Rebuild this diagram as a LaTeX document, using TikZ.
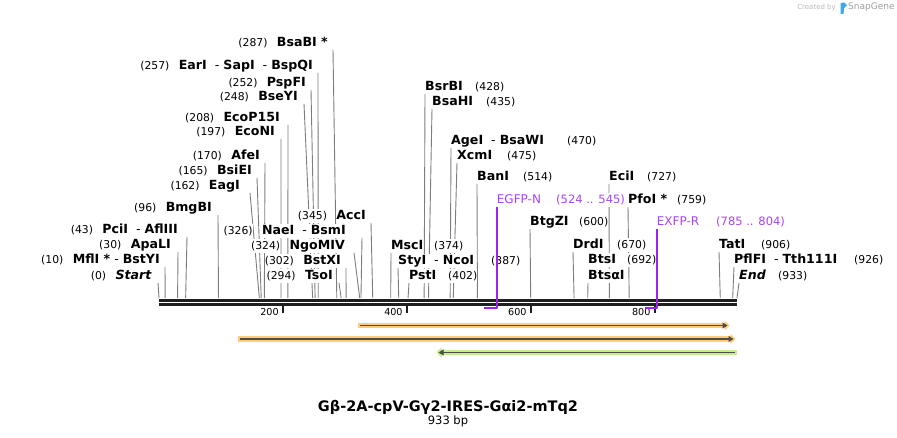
\documentclass[tikz,border=0pt]{standalone}
\usepackage{fontspec}
\setmainfont{DejaVu Sans}
\usetikzlibrary{positioning,arrows.meta}
\pgfdeclarelayer{bg}
\pgfsetlayers{bg,main}
\definecolor{cutgray}{RGB}{125,125,125}
\definecolor{primline}{RGB}{160,32,240}
\definecolor{primtext}{RGB}{168,68,245}
\definecolor{featorange}{RGB}{255,203,125}
\definecolor{featgreen}{RGB}{192,240,140}
\definecolor{featdark}{RGB}{78,78,68}
\definecolor{snapblue}{RGB}{60,170,230}
\begin{document}
\begin{tikzpicture}[x=1pt,y=-1pt,line join=round,
  lbl/.style={fill=white,inner xsep=0pt,inner ysep=1pt,text height=9pt,text depth=2.5pt},
  nm/.style={lbl,font=\fontsize{12.6}{14}\selectfont},
  nu/.style={lbl,font=\fontsize{10.8}{12}\selectfont},
  enzl/.style={nm,anchor=east},
  enzr/.style={nm,anchor=west},
  numl/.style={nu,anchor=east},
  numr/.style={nu,anchor=west},
  prim/.style={lbl,anchor=west,text=primtext,font=\fontsize{12}{14}\selectfont},
  primn/.style={prim,font=\fontsize{11.5}{13}\selectfont},
  cut/.style={cutgray,line width=0.9pt},
  hl/.style={line width=5.5pt},
  farr/.style={featdark,line width=1.7pt}]
\useasboundingbox (0,0) rectangle (897,438);
\def \xs{159}
\def \xe{737}
\def \bp{0.619507}
% left hand labels (number, name)
\foreach \i/\tx/\ty/\g/\p/\txt in {a/328/43/5/287/{\textbf{BsaBI *}},
  b/313/66/5/257/{\textbf{EarI}~~-~\textbf{SapI}~~-~\textbf{BspQI}},
  c/306/83/5/252/{\textbf{PspFI}},
  d/298/97/6/248/{\textbf{BseYI}},
  e/280/118/8/208/{\textbf{EcoP15I}},
  f/275/132/6/197/{\textbf{EcoNI}},
  g/260/156/5/170/{\textbf{AfeI}},
  h/252/171/5/165/{\textbf{BsiEI}},
  j/240/186/10/162/{\textbf{EagI}},
  k/212/208/6/96/{\textbf{BmgBI}},
  l/178/230/9/43/{\textbf{PciI}~~-~\textbf{AflIII}},
  m/171/245/7/30/{\textbf{ApaLI}},
  o/160/260/5/10/{\textbf{MflI *}~-~\textbf{BstYI}},
  s/152/276/6/0/{\textbf{\textit{Start}}},
  acc/366/216/5/345/{\textbf{AccI}},
  nae/346/231/16/326/{\textbf{NaeI}~~-~\textbf{BsmI}},
  ngo/345/246/9/324/{\textbf{NgoMIV}},
  bsx/341/261/5/302/{\textbf{BstXI}},
  tso/333/276/6/294/{\textbf{TsoI}}}{
  \node[enzl] (n\i) at (\tx,\ty) {\txt};
  \node[numl,left=9pt of n\i] (m\i) {(\p)};
  \coordinate (c\i) at ({\xs+\p*\bp},298);
  \begin{pgfonlayer}{bg}
  \draw[cut] ([xshift=\g*1pt]n\i.south east) -- (c\i);
  \end{pgfonlayer}
}
% right hand labels (name, number)
\foreach \i/\tx/\ty/\nx/\p/\txt in {msc/391/246/434/374/{\textbf{MscI}},
  sty/398/261/491/387/{\textbf{StyI}~~-~\textbf{NcoI}},
  pst/409/276/448/402/{\textbf{PstI}},
  bsr/425/87/475/428/{\textbf{BsrBI}},
  bsh/432/102/486/435/{\textbf{BsaHI}},
  age/451/141/567/470/{\textbf{AgeI}~~-~\textbf{BsaWI}},
  xcm/457/156/507/475/{\textbf{XcmI}},
  ban/477/177/523/514/{\textbf{BanI}},
  btg/530/222/579/600/{\textbf{BtgZI}},
  eci/609/177/647/727/{\textbf{EciI}},
  pfo/628/200/677/759/{\textbf{PfoI *}},
  drd/573/245/617/670/{\textbf{DrdI}},
  tat/719/245/761/906/{\textbf{TatI}},
  pfl/734/260/854/926/{\textbf{PflFI}~~-~\textbf{Tth111I}},
  fin/739/276/778/933/{\textbf{\textit{End}}}}{
  \node[enzr] (n\i) at (\tx,\ty) {\txt};
  \node[numr] (m\i) at (\nx,\ty) {(\p)};
  \coordinate (c\i) at ({\xs+\p*\bp},298);
  \begin{pgfonlayer}{bg}
  \draw[cut] (n\i.south west) -- (c\i);
  \end{pgfonlayer}
}
\node[enzr] (nbts) at (588,260) {\textbf{BtsI}};
\node[numr] (mbts) at (627,260) {(692)};
\node[enzr] (nbta) at (588,276) {\textbf{BtsαI}};
\coordinate (cbta) at ({\xs+692*\bp},298);
\begin{pgfonlayer}{bg}
\draw[cut] (nbta.south west) -- (cbta);
\end{pgfonlayer}
% sequence line and ruler
\draw[line width=2.8pt,black!88] (\xs,300.5) -- (\xe,300.5);
\draw[line width=2.8pt,black!88] (\xs,304.6) -- (\xe,304.6);
\foreach \t in {200,400,600,800}{
  \coordinate (k\t) at ({\xs+\t*\bp},306);
  \draw[line width=2pt,black!88] (k\t) -- ++(0,7);
  \node[anchor=east,inner sep=0pt,font=\fontsize{9.6}{11}\selectfont] (kl\t) at ([xshift=-4pt,yshift=-6pt]k\t) {\t};
}
% primers
\node[prim] (egfp) at (496.7,200) {EGFP-N};
\node[primn] (egfpn) at (556,200) {(524 .. 545)};
\coordinate (egfpa) at ({\xs+524*\bp},308);
\draw[primline,line width=1.8pt] (egfp.south west) |- (egfpa);
\node[prim] (exfp) at (656.7,222) {EXFP-R};
\node[primn] (exfpn) at (716,222) {(785 .. 804)};
\coordinate (exfpa) at ({\xs+785*\bp},308);
\draw[primline,line width=1.8pt] (exfp.south west) |- (exfpa);
% features
\coordinate (f1s) at (358,325.5); \coordinate (f1e) at (729.5,325.5);
\coordinate (f2s) at (237.5,339); \coordinate (f2e) at (735.5,339);
\coordinate (f3s) at (436.5,352.5); \coordinate (f3e) at (736.5,352.5);
\draw[hl,featorange,-{Triangle[length=5pt,width=10pt]}] (f1s) -- (f1e);
\draw[hl,featorange,-{Triangle[length=5pt,width=10pt]}] (f2s) -- (f2e);
\draw[hl,featgreen,{Triangle[length=5pt,width=10pt]}-] (f3s) -- (f3e);
\draw[farr,-{Triangle[length=5pt,width=6pt]}] ([xshift=2pt]f1s) -- ([xshift=-2pt]f1e);
\draw[farr,-{Triangle[length=5pt,width=6pt]}] ([xshift=2pt]f2s) -- ([xshift=-2pt]f2e);
\draw[farr,{Triangle[length=5pt,width=6pt]}-] ([xshift=2pt]f3s) -- ([xshift=-2pt]f3e);
% title
\node[inner sep=0pt,font=\fontsize{14.5}{16}\selectfont\bfseries] (ttl) at (448,407) {Gβ-2A-cpV-Gγ2-IRES-Gαi2-mTq2};
\node[inner sep=0pt,font=\fontsize{11.5}{13}\selectfont,below=1.5pt of ttl] (len) {933 bp};
% credit
\node[anchor=east,inner sep=0pt,text=black!28,font=\fontsize{7}{8}\selectfont] (crt) at (836,7.5) {Created by};
\fill[snapblue] (840.5,3) -- (844,2.5) -- (847,5) -- (844,8.5) -- (843.5,14) -- (840.5,14) -- cycle;
\node[anchor=west,inner sep=0pt,text=black!38,font=\fontsize{9}{10}\selectfont] (sg) at (848,7.5) {SnapGene};
\end{tikzpicture}
\end{document}
